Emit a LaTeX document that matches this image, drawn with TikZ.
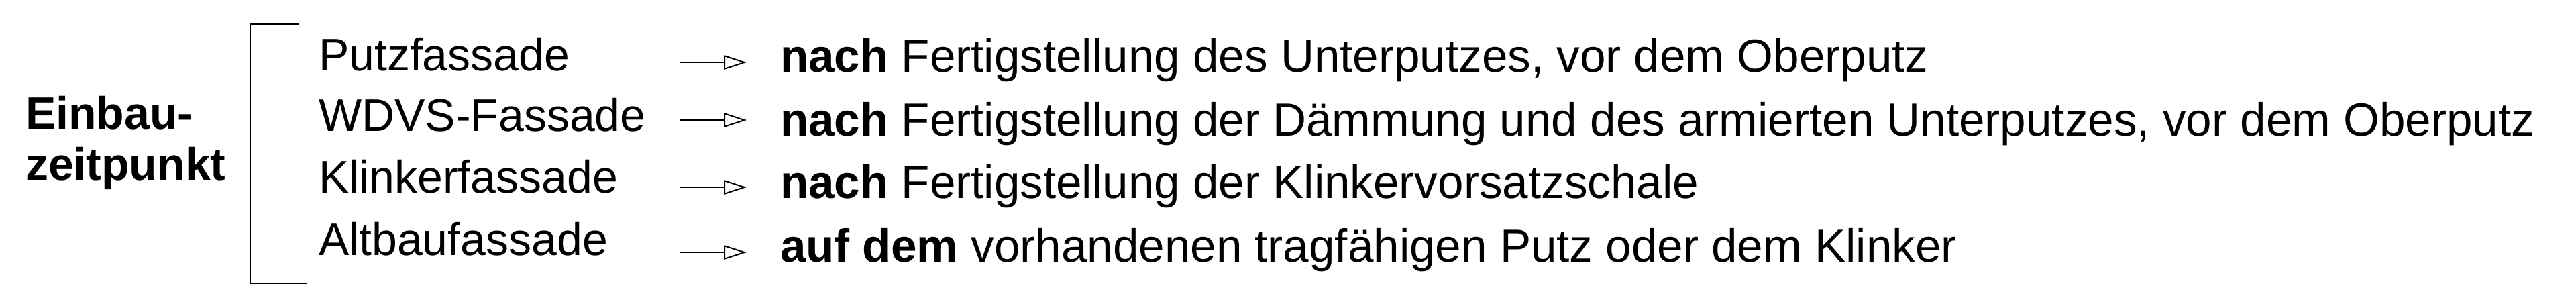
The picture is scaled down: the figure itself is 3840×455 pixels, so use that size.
\documentclass[tikz,border=0pt]{standalone}
\usepackage{fontspec}
\setmainfont{Liberation Sans}
\usetikzlibrary{arrows.meta}
\begin{document}
\begin{tikzpicture}[x=0.25pt,y=-0.25pt,
  txt/.style={anchor=base west,inner sep=0pt,outer sep=0pt,font=\fontsize{17pt}{20pt}\selectfont},
  desc/.style={txt,font=\fontsize{17.3pt}{20pt}\selectfont},
  arr/.style={line width=0.5pt,-{Triangle[open,length=8.5pt,width=5.4pt,line width=0.5pt]}},
  brk/.style={line width=0.6pt}]
\useasboundingbox (0,0) rectangle (3840,455);
% left label
\node[txt,font=\fontsize{17pt}{20pt}\selectfont\bfseries] (ein1) at (38,192) {Einbau-};
\node[txt,font=\fontsize{17pt}{20pt}\selectfont\bfseries] (ein2) at (38,268) {zeitpunkt};
% bracket
\coordinate (bt) at (446,36);
\coordinate (bb) at (457,422);
\draw[brk] (bt) -- (373,36) -- (373,422) -- (bb);
% facade types
\node[txt] (f1) at (475,105) {Putzfassade};
\node[txt] (f2) at (475,195) {WDVS-Fassade};
\node[txt] (f3) at (475,287) {Klinkerfassade};
\node[txt] (f4) at (475,380) {Altbaufassade};
% descriptions
\node[desc] (d1) at (1163,107) {\textbf{nach} Fertigstellung des Unterputzes, vor dem Oberputz};
\node[desc] (d2) at (1163,202) {\textbf{nach} Fertigstellung der Dämmung und des armierten Unterputzes, vor dem Oberputz};
\node[desc] (d3) at (1163,295) {\textbf{nach} Fertigstellung der Klinkervorsatzschale};
\node[desc] (d4) at (1163,390) {\textbf{auf dem} vorhandenen tragfähigen Putz oder dem Klinker};
% arrows
\coordinate (s1) at (1013,93);  \coordinate (e1) at (1113,93);
\coordinate (s2) at (1013,179); \coordinate (e2) at (1113,179);
\coordinate (s3) at (1013,279); \coordinate (e3) at (1113,279);
\coordinate (s4) at (1013,376); \coordinate (e4) at (1113,376);
\draw[arr] (s1) -- (e1);
\draw[arr] (s2) -- (e2);
\draw[arr] (s3) -- (e3);
\draw[arr] (s4) -- (e4);
\end{tikzpicture}
\end{document}
